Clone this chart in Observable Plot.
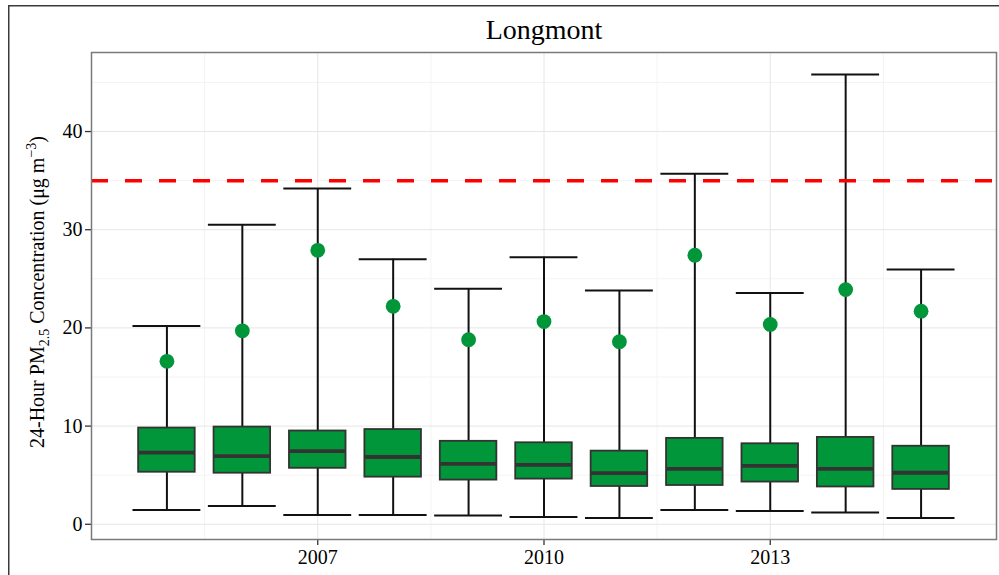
<!DOCTYPE html>
<html>
<head>
<meta charset="utf-8">
<script src="https://cdn.jsdelivr.net/npm/d3@7"></script>
<script src="https://cdn.jsdelivr.net/npm/@observablehq/plot@0.6"></script>
<style>
  html, body { margin: 0; padding: 0; background: #fff; }
  #chart { position: relative; width: 999px; height: 575px; overflow: hidden; }
</style>
</head>
<body>
<div id="chart"></div>
<script>
// ---- data ----
const title = "Longmont";
const years   = [2005, 2006, 2007, 2008, 2009, 2010, 2011, 2012, 2013, 2014, 2015];
const minVal  = [1.45, 1.85, 0.95, 0.95, 0.90, 0.75, 0.65, 1.45, 1.35, 1.20, 0.65];
const q1Val   = [5.30, 5.20, 5.70, 4.80, 4.50, 4.60, 3.85, 3.95, 4.30, 3.80, 3.55];
const medVal  = [7.30, 6.95, 7.45, 6.85, 6.15, 6.05, 5.20, 5.65, 5.95, 5.65, 5.25];
const q3Val   = [9.80, 9.90, 9.50, 9.65, 8.45, 8.30, 7.45, 8.75, 8.20, 8.85, 7.95];
const maxVal  = [20.2, 30.5, 34.2, 27.0, 24.0, 27.2, 23.8, 35.7, 23.55, 45.8, 25.95];
const p98Val  = [16.6, 19.7, 27.9, 22.2, 18.8, 20.65, 18.6, 27.4, 20.35, 23.9, 21.7];
const standard = [35];
const xTicks = [2007, 2010, 2013];
const xMinor = [2005.5, 2008.5, 2011.5, 2014.5];
const yTicks = [0, 10, 20, 30, 40];
const yMinor = [5, 15, 25, 35, 45];

const table = years.map((year, i) => ({
  year, min: minVal[i], q1: q1Val[i], med: medVal[i], q3: q3Val[i], max: maxVal[i], p98: p98Val[i]
}));

const green = "#009639";
const boxHalf = 0.375, capHalf = 0.45;

const plot = Plot.plot({
  width: 999,
  height: 575,
  marginLeft: 91,
  marginRight: 3,
  marginTop: 52,
  marginBottom: 36,
  style: { fontFamily: "'Liberation Serif', serif", fontSize: "20px", color: "#000", background: "#fff" },
  x: { domain: [2004, 2016] },
  y: { domain: [-1.55, 48.05] },
  marks: [
    Plot.ruleY(yMinor, { stroke: "#f4f4f4", strokeWidth: 1 }),
    Plot.ruleX(xMinor, { stroke: "#f4f4f4", strokeWidth: 1 }),
    Plot.ruleY(yTicks, { stroke: "#e6e6e6", strokeWidth: 1 }),
    Plot.ruleX(xTicks, { stroke: "#e6e6e6", strokeWidth: 1 }),
    Plot.axisY(yTicks, { tickSize: 6, tickPadding: 3, stroke: "#333", strokeWidth: 1.3, label: null, fontSize: 20 }),
    Plot.axisX(xTicks, { tickSize: 6, tickPadding: 4, stroke: "#333", strokeWidth: 1.3, label: null, tickFormat: d => String(d), fontSize: 20 }),
    // whiskers (errorbar)
    Plot.ruleX(table, { x: "year", y1: "min", y2: "max", stroke: "#111", strokeWidth: 2 }),
    Plot.ruleY(table, { y: "max", x1: d => d.year - capHalf, x2: d => d.year + capHalf, stroke: "#111", strokeWidth: 2 }),
    Plot.ruleY(table, { y: "min", x1: d => d.year - capHalf, x2: d => d.year + capHalf, stroke: "#111", strokeWidth: 2 }),
    // boxes
    Plot.rect(table, { x1: d => d.year - boxHalf, x2: d => d.year + boxHalf, y1: "q1", y2: "q3", fill: green, stroke: "#333", strokeWidth: 1.8 }),
    Plot.ruleY(table, { y: "med", x1: d => d.year - boxHalf, x2: d => d.year + boxHalf, stroke: "#333", strokeWidth: 3.8 }),
    // 98th percentile points
    Plot.dot(table, { x: "year", y: "p98", r: 7.4, fill: green, stroke: "none" }),
    // NAAQS standard
    Plot.ruleY(standard, { stroke: "#ff0000", strokeWidth: 3.5, strokeDasharray: "17,17" }),
    Plot.frame({ stroke: "#7a7a7a", strokeWidth: 1.5 }),
    Plot.text([title], { frameAnchor: "top", dy: -22, fontSize: 28, fill: "#000", lineAnchor: "middle" })
  ]
});

document.getElementById("chart").appendChild(plot);

// outer border and y-axis label with sub/superscripts
const svg = d3.select(plot);
svg.append("rect")
  .attr("x", 8.75).attr("y", 5.75).attr("width", 1005).attr("height", 600)
  .attr("fill", "none").attr("stroke", "#3a3a3a").attr("stroke-width", 1.5);

const lab = svg.append("text")
  .attr("transform", "translate(44,292) rotate(-90)")
  .attr("text-anchor", "middle")
  .attr("font-family", "'Liberation Serif', serif")
  .attr("font-size", 20)
  .attr("fill", "#000");
lab.append("tspan").text("24-Hour PM");
lab.append("tspan").attr("font-size", 14).attr("dy", 5).text("2.5");
lab.append("tspan").attr("dy", -5).text(" Concentration (μg m");
lab.append("tspan").attr("font-size", 14).attr("dy", -8).text("−3");
lab.append("tspan").attr("dy", 8).text(")");
</script>
</body>
</html>
